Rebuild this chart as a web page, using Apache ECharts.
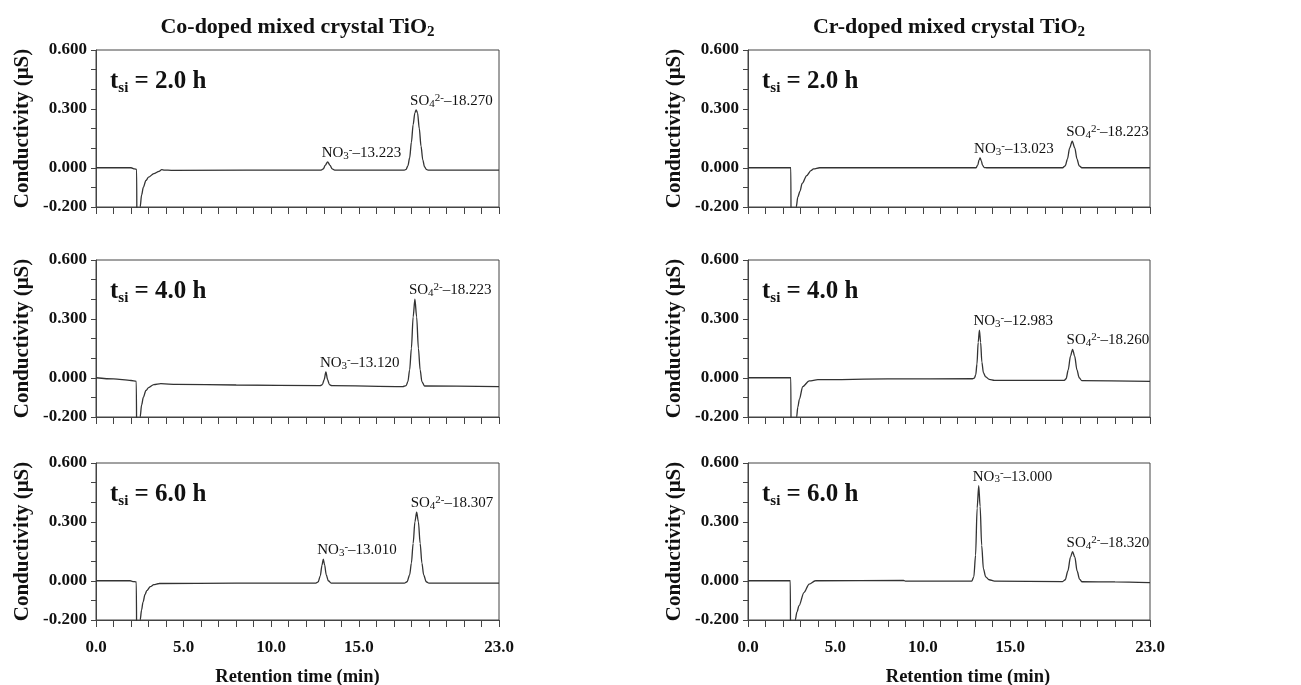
<!DOCTYPE html>
<html>
<head>
<meta charset="utf-8">
<script src="https://cdn.jsdelivr.net/npm/echarts@6/dist/echarts.min.js"></script>
<style>
  html, body { margin: 0; padding: 0; background: #fff; }
  #chart { width: 1301px; height: 685px; }
</style>
</head>
<body>
<div id="chart"></div>
<script>
// chromatograms: [retention time (min), conductivity (uS)]
const coData2 = [
  [0, 0], [2.0, 0], [2.2, -0.006], [2.32, -0.008], [2.34, -0.4], [2.48, -0.4], [2.52, -0.2],
  [2.6, -0.14], [2.7, -0.1], [2.85, -0.065], [3.0, -0.048], [3.3, -0.03], [3.6, -0.018],
  [3.75, -0.01], [3.9, -0.012], [4.3, -0.013], [12.85, -0.012],
  [12.97, -0.006], [13.08, 0.012], [13.22, 0.03], [13.36, 0.012], [13.48, -0.006], [13.62, -0.012],
  [17.6, -0.012], [17.7, -0.008], [17.8, 0.01], [17.9, 0.05], [18.0, 0.13], [18.1, 0.22],
  [18.2, 0.28], [18.27, 0.295], [18.35, 0.28], [18.45, 0.2], [18.55, 0.11], [18.65, 0.04],
  [18.75, 0.005], [18.85, -0.008], [18.95, -0.012], [23, -0.012]
];
const coData4 = [
  [0, 0], [1.0, -0.006], [2.0, -0.014], [2.3, -0.018], [2.33, -0.4], [2.48, -0.4], [2.52, -0.2],
  [2.6, -0.14], [2.7, -0.1], [2.85, -0.065], [3.0, -0.05], [3.3, -0.035], [3.7, -0.03],
  [4.6, -0.034], [8.0, -0.037], [12.8, -0.04],
  [12.92, -0.035], [13.02, -0.01], [13.12, 0.03], [13.22, -0.01], [13.32, -0.035], [13.45, -0.04],
  [17.5, -0.045], [17.7, -0.04], [17.8, -0.02], [17.9, 0.04], [18.0, 0.15], [18.1, 0.31],
  [18.2, 0.4], [18.3, 0.31], [18.4, 0.15], [18.5, 0.04], [18.6, -0.02], [18.75, -0.042],
  [23, -0.045]
];
const coData6 = [
  [0, 0], [1.95, 0], [2.1, -0.004], [2.3, -0.006], [2.33, -0.4], [2.48, -0.4], [2.52, -0.2],
  [2.6, -0.15], [2.68, -0.11], [2.8, -0.07], [2.9, -0.05], [3.1, -0.03], [3.3, -0.02],
  [3.6, -0.014], [8.0, -0.012], [12.55, -0.012],
  [12.68, -0.006], [12.8, 0.025], [12.9, 0.08], [12.97, 0.11], [13.05, 0.08], [13.14, 0.03],
  [13.26, 0.0], [13.42, -0.012],
  [17.6, -0.012], [17.75, -0.005], [17.9, 0.03], [18.0, 0.09], [18.1, 0.19], [18.2, 0.3],
  [18.3, 0.35], [18.4, 0.3], [18.5, 0.19], [18.6, 0.09], [18.7, 0.03], [18.85, -0.005],
  [19.0, -0.012], [23, -0.012]
];
const crData2 = [
  [0, 0], [2.45, 0], [2.47, -0.4], [2.7, -0.4], [2.76, -0.2], [2.85, -0.15], [2.97, -0.12],
  [3.1, -0.08], [3.36, -0.04], [3.6, -0.015], [3.75, -0.006], [4.1, 0], [13.05, 0],
  [13.15, 0.015], [13.22, 0.04], [13.28, 0.05], [13.35, 0.035], [13.42, 0.012], [13.52, 0.001],
  [13.65, 0], [18.0, 0], [18.15, 0.01], [18.28, 0.045], [18.4, 0.1], [18.55, 0.135],
  [18.7, 0.1], [18.82, 0.045], [18.95, 0.01], [19.1, 0], [23, 0]
];
const crData4 = [
  [0, 0], [2.45, 0], [2.47, -0.4], [2.72, -0.4], [2.78, -0.2], [2.85, -0.15], [2.94, -0.11],
  [3.13, -0.045], [3.5, -0.016], [4.0, -0.01], [8.0, -0.006], [12.85, -0.005],
  [12.95, -0.002], [13.03, 0.015], [13.1, 0.07], [13.17, 0.18], [13.24, 0.243], [13.31, 0.18],
  [13.38, 0.08], [13.47, 0.025], [13.6, 0.004], [13.8, -0.008], [14.1, -0.013],
  [18.1, -0.013], [18.2, -0.005], [18.32, 0.04], [18.45, 0.11], [18.57, 0.145], [18.69, 0.11],
  [18.82, 0.04], [18.95, 0.0], [19.1, -0.015], [23, -0.018]
];
const crData6 = [
  [0, 0], [2.42, 0], [2.44, -0.4], [2.65, -0.4], [2.7, -0.2], [2.8, -0.16], [2.92, -0.127],
  [3.2, -0.06], [3.5, -0.017], [3.85, 0], [8.9, 0.002], [9.0, -0.002], [12.8, -0.002],
  [12.92, 0.02], [13.02, 0.13], [13.11, 0.37], [13.2, 0.485], [13.28, 0.38], [13.37, 0.18],
  [13.47, 0.06], [13.6, 0.02], [13.8, 0.005], [14.1, -0.002],
  [18.0, -0.004], [18.15, 0.005], [18.3, 0.05], [18.45, 0.12], [18.57, 0.148], [18.7, 0.12],
  [18.83, 0.05], [18.97, 0.008], [19.1, -0.005], [21.0, -0.006], [23, -0.01]
];

// peak labels: ion, retention time text
const coPeaks2 = [['NO3', '13.223'], ['SO4', '18.270']];
const coPeaks4 = [['NO3', '13.120'], ['SO4', '18.223']];
const coPeaks6 = [['NO3', '13.010'], ['SO4', '18.307']];
const crPeaks2 = [['NO3', '13.023'], ['SO4', '18.223']];
const crPeaks4 = [['NO3', '12.983'], ['SO4', '18.260']];
const crPeaks6 = [['NO3', '13.000'], ['SO4', '18.320']];

const columnTitles = ['Co-doped mixed crystal TiO', 'Cr-doped mixed crystal TiO'];
const panelTimes = ['2.0', '4.0', '6.0'];
const xLabelVals = [0, 5, 10, 15, 23];
const yLabelVals = [0.6, 0.3, 0, -0.2];

const FONT = "'Liberation Serif','Times New Roman',serif";
const INK = '#111';

const chart = echarts.init(document.getElementById('chart'));

const colLeft = [96, 748];
const colWidth = [403, 402];
const rowTop = [50, 260, 463];
const rowHeight = 157;

const panels = [
  { col: 0, row: 0, data: coData2, peaks: coPeaks2 },
  { col: 0, row: 1, data: coData4, peaks: coPeaks4 },
  { col: 0, row: 2, data: coData6, peaks: coPeaks6 },
  { col: 1, row: 0, data: crData2, peaks: crPeaks2 },
  { col: 1, row: 1, data: crData4, peaks: crPeaks4 },
  { col: 1, row: 2, data: crData6, peaks: crPeaks6 }
];

// highest point of the trace near the labelled retention time
function peakPoint(data, rt) {
  let best = null;
  data.forEach(p => {
    if (Math.abs(p[0] - rt) <= 0.5 && (!best || p[1] > best[1])) best = p;
  });
  return best;
}

function peakLabel(ion, rt) {
  if (ion === 'NO3') return `{n|NO}{sub|3}{sup|-}{n|–${rt}}`;
  return `{n|SO}{sub|4}{sup|2-}{n|–${rt}}`;
}

const near = (v, arr) => arr.some(a => Math.abs(a - v) < 1e-6);

const grids = [], xAxes = [], yAxes = [], series = [], graphics = [];

panels.forEach((p, i) => {
  grids.push({
    left: colLeft[p.col], top: rowTop[p.row], width: colWidth[p.col], height: rowHeight,
    outerBoundsMode: 'none',
    show: true, borderColor: '#444', borderWidth: 1, backgroundColor: 'transparent'
  });
  const bottom = p.row === 2;
  xAxes.push({
    type: 'value', gridIndex: i, min: 0, max: 23, interval: 1,
    axisLine: { show: true, onZero: false, lineStyle: { color: '#444', width: 1 } },
    axisTick: { show: true, length: 7, lineStyle: { color: '#444' } },
    splitLine: { show: false },
    axisLabel: {
      show: bottom, margin: 19, color: INK, fontFamily: FONT, fontWeight: 'bold', fontSize: 17,
      showMinLabel: true, showMaxLabel: true,
      formatter: v => (near(v, xLabelVals) ? v.toFixed(1) : '')
    },
    name: bottom ? 'Retention time (min)' : '',
    nameLocation: 'middle', nameGap: 48,
    nameTextStyle: {
      color: INK, fontFamily: FONT, fontWeight: 'bold', fontSize: 18.5,
      padding: p.col === 1 ? [0, 0, 0, 38] : 0
    }
  });
  yAxes.push({
    type: 'value', gridIndex: i, min: -0.2, max: 0.6, interval: 0.1,
    axisLine: { show: true, onZero: false, lineStyle: { color: '#444', width: 1 } },
    axisTick: { show: true, length: 5, lineStyle: { color: '#444' } },
    splitLine: { show: false },
    axisLabel: {
      margin: 9, color: INK, fontFamily: FONT, fontWeight: 'bold', fontSize: 17,
      showMinLabel: true, showMaxLabel: true,
      formatter: v => (near(v, yLabelVals) ? v.toFixed(3) : '')
    },
    name: 'Conductivity (μS)', nameLocation: 'middle', nameRotate: 90, nameGap: 63,
    nameTextStyle: { color: INK, fontFamily: FONT, fontWeight: 'bold', fontSize: 21 }
  });
  series.push({
    type: 'line', xAxisIndex: i, yAxisIndex: i, data: p.data,
    showSymbol: false, smooth: 0.3, smoothMonotone: 'x', clip: true,
    lineStyle: { color: '#333', width: 1.3 },
    markPoint: {
      symbol: 'circle', symbolSize: 0, silent: true,
      label: {
        show: true, position: [-6, -9], align: 'left', verticalAlign: 'middle',
        rich: {
          n: { fontFamily: FONT, fontSize: 15, color: INK, lineHeight: 17 },
          sub: { fontFamily: FONT, fontSize: 11, color: INK, lineHeight: 11, verticalAlign: 'bottom' },
          sup: { fontFamily: FONT, fontSize: 11, color: INK, lineHeight: 11, verticalAlign: 'top' }
        }
      },
      data: p.peaks.map(pk => ({
        coord: peakPoint(p.data, parseFloat(pk[1])),
        label: { formatter: peakLabel(pk[0], pk[1]) }
      }))
    }
  });
  graphics.push({
    type: 'text', left: colLeft[p.col] + 14, top: rowTop[p.row] + 19,
    style: {
      text: `{t|t}{s|si}{t| = ${panelTimes[p.row]} h}`,
      rich: {
        t: { fontFamily: FONT, fontWeight: 'bold', fontSize: 25, fill: INK, lineHeight: 29 },
        s: { fontFamily: FONT, fontWeight: 'bold', fontSize: 15, fill: INK, lineHeight: 14, verticalAlign: 'bottom' }
      }
    }
  });
});

columnTitles.forEach((t, c) => {
  graphics.push({
    type: 'text', x: colLeft[c] + colWidth[c] / 2, y: 27,
    style: {
      text: `{a|${t}}{b|2}`, align: 'center', verticalAlign: 'middle',
      rich: {
        a: { fontFamily: FONT, fontWeight: 'bold', fontSize: 22, fill: INK, lineHeight: 26 },
        b: { fontFamily: FONT, fontWeight: 'bold', fontSize: 15, fill: INK, lineHeight: 15, verticalAlign: 'bottom' }
      }
    }
  });
});

chart.setOption({
  animation: false,
  backgroundColor: '#fff',
  grid: grids,
  xAxis: xAxes,
  yAxis: yAxes,
  series: series,
  graphic: graphics
});
</script>
</body>
</html>
